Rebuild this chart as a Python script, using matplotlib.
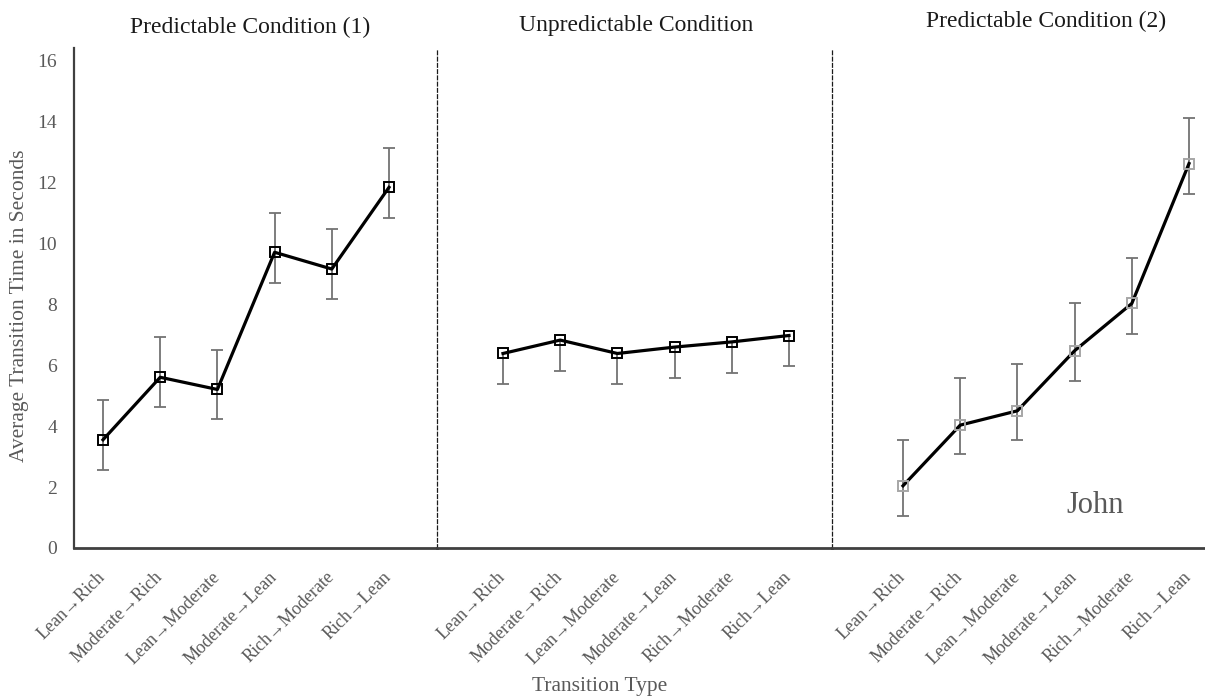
import matplotlib
matplotlib.use("Agg")
import matplotlib.pyplot as plt

plt.rcParams['font.family'] = ['Liberation Serif', 'DejaVu Serif']

transitions = ['Lean→Rich', 'Moderate→Rich', 'Lean→Moderate',
               'Moderate→Lean', 'Rich→Moderate', 'Rich→Lean']
titles = ['Predictable Condition (1)', 'Unpredictable Condition',
          'Predictable Condition (2)']

# means and error bar lengths
pred1_mean = [3.55, 5.6, 5.2, 9.7, 9.15, 11.83]
pred1_plus = [1.3, 1.33, 1.31, 1.29, 1.31, 1.28]
pred1_minus = [1.0, 0.99, 0.98, 1.0, 0.99, 1.02]

unpred_mean = [6.38, 6.82, 6.38, 6.59, 6.76, 6.97]
unpred_plus = [0, 0, 0, 0, 0, 0]
unpred_minus = [1.01, 1.02, 1.01, 1.01, 1.01, 1.01]

pred2_mean = [2.04, 4.03, 4.5, 6.47, 8.02, 12.61]
pred2_plus = [1.5, 1.55, 1.55, 1.56, 1.5, 1.5]
pred2_minus = [1.0, 0.95, 0.95, 1.0, 1.0, 1.0]

W, H = 1205, 698
fig = plt.figure(figsize=(W / 100, H / 100), dpi=100)

bottom_px, top_px = 548, 48
# (left px, right px, first tick px) for each panel
panels = [(74, 437, 103), (437, 832, 503), (832, 1205, 903)]
step_px = 57.2

series = [
    (pred1_mean, pred1_plus, pred1_minus, 'black', 7.5),
    (unpred_mean, unpred_plus, unpred_minus, 'black', 7.5),
    (pred2_mean, pred2_plus, pred2_minus, '#a6a6a6', 6.5),
]
title_x = [250, 636, 1046]
title_y = [27, 26, 21]

grey = '#595959'
xs = list(range(len(transitions)))

for i, ((l, r, first), (mean, plus, minus, mcol, msz)) in enumerate(zip(panels, series)):
    ax = fig.add_axes([l / W, 1 - bottom_px / H, (r - l) / W, (bottom_px - top_px) / H])
    x0 = -(first - l) / step_px
    ax.set_xlim(x0, x0 + (r - l) / step_px)
    ax.set_ylim(0, 16.4)

    eb = ax.errorbar(xs, mean, yerr=[minus, plus], fmt='none', ecolor='#737373',
                     elinewidth=1.3, capsize=4, capthick=1.3, zorder=2)
    if i == 1:
        eb[1][1].set_visible(False)
    ax.plot(xs, mean, color='black', lw=2.3, zorder=3)
    ax.plot(xs, mean, ls='none', marker='s', ms=msz, mfc='none', mec=mcol,
            mew=1.4, zorder=4)

    for s in ['top', 'right']:
        ax.spines[s].set_visible(False)
    ax.spines['bottom'].set_color('#404040')
    ax.spines['bottom'].set_linewidth(2)
    if i == 0:
        ax.spines['left'].set_color('#404040')
        ax.spines['left'].set_linewidth(1.6)
        ax.set_yticks(range(0, 17, 2))
        ax.tick_params(axis='y', length=0, pad=12, labelsize=14, labelcolor=grey)
        ax.set_ylabel('Average Transition Time in Seconds', fontsize=15.5, color=grey)
        ax.yaxis.set_label_coords(-0.125, 0.484)
    else:
        ax.spines['left'].set_color('#1a1a1a')
        ax.spines['left'].set_linewidth(0.9)
        ax.spines['left'].set_linestyle((0, (3, 2)))
        ax.set_yticks([])

    ax.set_xticks(xs)
    ax.set_xticklabels(transitions, rotation=45, ha='right', va='center',
                       rotation_mode='anchor', fontsize=13, color=grey)
    ax.tick_params(axis='x', length=0, pad=19)

    fig.text(title_x[i] / W, 1 - title_y[i] / H, titles[i], ha='center', va='center',
             fontsize=17, color='#1a1a1a')

    if i == 2:
        ax.text(0.705, 0.085, 'John', transform=ax.transAxes, ha='center', va='center',
                fontsize=22, color=grey)

fig.text(600 / W, 1 - 687 / H, 'Transition Type', ha='center', va='center',
         fontsize=15.5, color=grey)

fig.savefig('out.png', dpi=100)
